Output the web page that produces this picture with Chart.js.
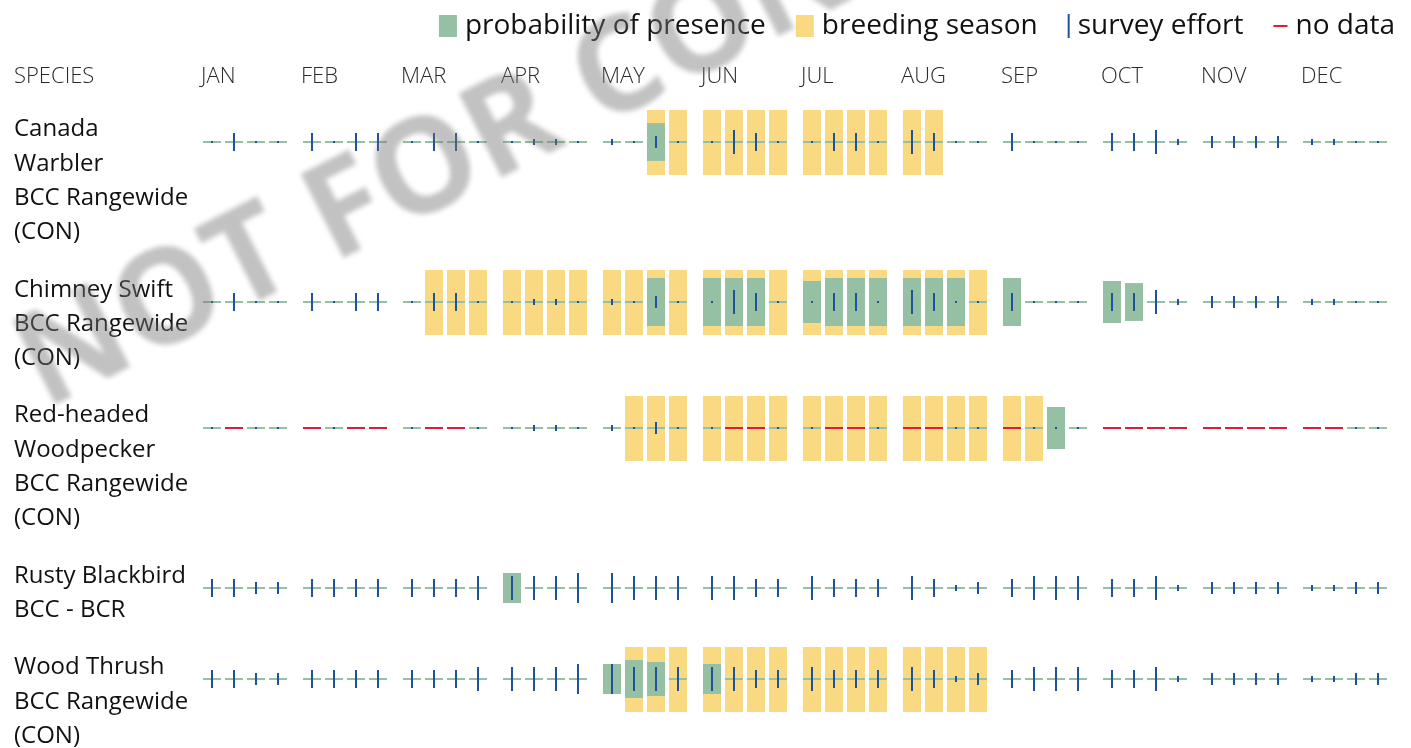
<!DOCTYPE html>
<html lang="en">
<head>
  <meta charset="UTF-8">
  <title>species calendar</title>
  <script src="https://cdn.jsdelivr.net/npm/chart.js@4.4.1/dist/chart.umd.min.js"></script>
  <style>
    body {
      margin: 0;
      background-color: #ffffff;
    }
    #wrap {
      width: 1411px;
      height: 748px;
    }
  </style>
</head>
<body>
  <div id="wrap"><canvas id="calendar" width="1411" height="748"></canvas></div>

  <script>
    const months = ['JAN', 'FEB', 'MAR', 'APR', 'MAY', 'JUN', 'JUL', 'AUG', 'SEP', 'OCT', 'NOV', 'DEC'];
    const legendLabels = ['probability of presence', 'breeding season', 'survey effort', 'no data'];
    const speciesLabels = [
      ['Canada', 'Warbler', 'BCC Rangewide', '(CON)'],
      ['Chimney Swift', 'BCC Rangewide', '(CON)'],
      ['Red-headed', 'Woodpecker', 'BCC Rangewide', '(CON)'],
      ['Rusty Blackbird', 'BCC - BCR'],
      ['Wood Thrush', 'BCC Rangewide', '(CON)']
    ];

    // 48 weeks per row (4 per month). breeding: 1 = breeding season
    const breedingCanada   = [0,0,0,0, 0,0,0,0, 0,0,0,0, 0,0,0,0, 0,0,1,1, 1,1,1,1, 1,1,1,1, 1,1,0,0, 0,0,0,0, 0,0,0,0, 0,0,0,0, 0,0,0,0];
    const breedingChimney  = [0,0,0,0, 0,0,0,0, 0,1,1,1, 1,1,1,1, 1,1,1,1, 1,1,1,1, 1,1,1,1, 1,1,1,1, 0,0,0,0, 0,0,0,0, 0,0,0,0, 0,0,0,0];
    const breedingRedHead  = [0,0,0,0, 0,0,0,0, 0,0,0,0, 0,0,0,0, 0,1,1,1, 1,1,1,1, 1,1,1,1, 1,1,1,1, 1,1,0,0, 0,0,0,0, 0,0,0,0, 0,0,0,0];
    const breedingRusty    = [0,0,0,0, 0,0,0,0, 0,0,0,0, 0,0,0,0, 0,0,0,0, 0,0,0,0, 0,0,0,0, 0,0,0,0, 0,0,0,0, 0,0,0,0, 0,0,0,0, 0,0,0,0];
    const breedingThrush   = [0,0,0,0, 0,0,0,0, 0,0,0,0, 0,0,0,0, 0,1,1,1, 1,1,1,1, 1,1,1,1, 1,1,1,1, 0,0,0,0, 0,0,0,0, 0,0,0,0, 0,0,0,0];

    // probability of presence, 0-10
    const probCanada  = [0,0,0,0, 0,0,0,0, 0,0,0,0, 0,0,0,0, 0,0,7.9,0, 0,0,0,0, 0,0,0,0, 0,0,0,0, 0,0,0,0, 0,0,0,0, 0,0,0,0, 0,0,0,0];
    const probChimney = [0,0,0,0, 0,0,0,0, 0,0,0,0, 0,0,0,0, 0,0,10,0, 10,10,10,0, 8.75,10,10,10, 10,10,10,0, 10,0,0,0, 8.75,7.9,0,0, 0,0,0,0, 0,0,0,0];
    const probRedHead = [0,0,0,0, 0,0,0,0, 0,0,0,0, 0,0,0,0, 0,0,0,0, 0,0,0,0, 0,0,0,0, 0,0,0,0, 0,0,8.75,0, 0,0,0,0, 0,0,0,0, 0,0,0,0];
    const probRusty   = [0,0,0,0, 0,0,0,0, 0,0,0,0, 6.25,0,0,0, 0,0,0,0, 0,0,0,0, 0,0,0,0, 0,0,0,0, 0,0,0,0, 0,0,0,0, 0,0,0,0, 0,0,0,0];
    const probThrush  = [0,0,0,0, 0,0,0,0, 0,0,0,0, 0,0,0,0, 6.25,7.9,7.1,0, 6.25,0,0,0, 0,0,0,0, 0,0,0,0, 0,0,0,0, 0,0,0,0, 0,0,0,0, 0,0,0,0];

    // survey effort level 0-5 (0 = surveyed, barely)
    const effortEast  = [0,3,0,0, 3,0,3,3, 0,3,3,0, 0,1,1,0, 1,0,2,0, 0,4,3,0, 0,3,3,0, 4,3,0,0, 3,0,0,0, 3,3,4,1, 2,2,2,2, 1,1,0,0];
    const effortNorth = [3,3,2,2, 3,3,3,3, 3,3,3,4, 4,4,4,5, 5,4,4,4, 4,4,3,3, 4,3,3,3, 4,3,1,2, 3,4,4,4, 3,3,4,1, 2,2,2,2, 1,1,2,2];

    // 1 = no data for that week
    const noDataNone    = new Array(48).fill(0);
    const noDataRedHead = [0,1,0,0, 1,0,1,1, 0,1,1,0, 0,0,0,0, 0,0,0,0, 0,1,1,0, 0,1,1,0, 1,1,0,0, 1,0,0,0, 1,1,1,1, 1,1,1,1, 1,1,0,0];

    const breeding = [breedingCanada, breedingChimney, breedingRedHead, breedingRusty, breedingThrush];
    const prob = [probCanada, probChimney, probRedHead, probRusty, probThrush];
    const effort = [effortEast, effortEast, effortEast, effortNorth, effortNorth];
    const noData = [noDataNone, noDataNone, noDataRedHead, noDataNone, noDataNone];

    const COLORS = {
      prob: '#95c0a3',
      breed: '#f9d981',
      effort: '#1f5298',
      noData: '#e31b3a',
      text: '#111111'
    };

    // layout
    const LINE_H = 34.3;
    const ROW_GAP = 23;
    const FIRST_TOP = 112;
    const weekX = (i) => Math.floor(i / 4) + ((i % 4) * 22 + 9) / 100;

    const rowTops = [];
    let nextTop = FIRST_TOP;
    speciesLabels.forEach((lines) => {
      rowTops.push(nextTop);
      nextTop += lines.length * LINE_H + ROW_GAP;
    });
    const rowCenters = rowTops.map((t) => Math.round(t + 29.5));

    const breedBars = [], probBars = [], lineBars = [], redBars = [], effortBars = [];
    speciesLabels.forEach((_, s) => {
      const c = rowCenters[s];
      for (let i = 0; i < 48; i++) {
        const x = weekX(i);
        if (breeding[s][i]) breedBars.push({ x, y: [c - 32, c + 33] });
        if (prob[s][i] > 0) probBars.push({ x, y: [c - prob[s][i] * 2.4, c + prob[s][i] * 2.4] });
        if (noData[s][i]) {
          redBars.push({ x, y: [c - 1, c + 1] });
        } else {
          lineBars.push({ x, y: [c - 1, c + 1] });
          const h = Math.max(2, effort[s][i] * 6);
          effortBars.push({ x, y: [c - h / 2, c + h / 2] });
        }
      }
    });

    const barDefaults = { grouped: false, borderWidth: 0, inflateAmount: 0 };

    const textPlugin = {
      id: 'calendarText',
      afterDraw(chart) {
        const ctx = chart.ctx;
        const xs = chart.scales.x;
        const ys = chart.scales.y;
        ctx.save();
        ctx.textBaseline = 'middle';
        ctx.textAlign = 'left';

        // header row
        ctx.fillStyle = '#2a2a2a';
        ctx.font = '300 22px "Open Sans"';
        ctx.fillText('SPECIES', 14, 77);
        months.forEach((m, i) => {
          ctx.fillText(m, xs.getPixelForValue(i) - 2, 77);
        });

        // species labels
        ctx.fillStyle = COLORS.text;
        ctx.font = '24px "Open Sans"';
        speciesLabels.forEach((lines, s) => {
          lines.forEach((line, k) => {
            ctx.fillText(line, 14, ys.getPixelForValue(rowTops[s] + LINE_H * k + 17.5));
          });
        });

        // legend, right aligned
        ctx.font = '28px "Open Sans"';
        const keyW = [18, 18, 2, 14];
        let x = 1395;
        const pos = [];
        for (let k = legendLabels.length - 1; k >= 0; k--) {
          const w = ctx.measureText(legendLabels[k]).width;
          x -= w;
          pos[k] = { text: x };
          x -= 8 + keyW[k];
          pos[k].key = x;
          x -= 30;
        }
        const ly = 26;
        ctx.fillStyle = COLORS.prob;
        ctx.fillRect(pos[0].key, ly - 11, 18, 22);
        ctx.fillStyle = COLORS.breed;
        ctx.fillRect(pos[1].key, ly - 11, 18, 22);
        ctx.fillStyle = COLORS.effort;
        ctx.fillRect(pos[2].key, ly - 12, 2, 24);
        ctx.fillStyle = COLORS.noData;
        ctx.fillRect(pos[3].key, ly - 1, 14, 2);
        ctx.fillStyle = COLORS.text;
        legendLabels.forEach((t, k) => ctx.fillText(t, pos[k].text, ly));

        // watermark
        ctx.translate(45, 410);
        ctx.rotate(-27 * Math.PI / 180);
        ctx.filter = 'blur(2.5px)';
        ctx.fillStyle = 'rgba(120, 120, 120, 0.45)';
        ctx.font = 'bold 132px "Open Sans"';
        ctx.textBaseline = 'alphabetic';
        ctx.fillText('NOT FOR CONSULTATION', 0, 0);
        ctx.restore();
      }
    };

    new Chart(document.getElementById('calendar'), {
      type: 'bar',
      data: {
        datasets: [
          { label: 'survey effort', data: effortBars, backgroundColor: COLORS.effort, barThickness: 2, order: 1, ...barDefaults },
          { label: 'no data', data: redBars, backgroundColor: COLORS.noData, barThickness: 18, order: 2, ...barDefaults },
          { label: 'week', data: lineBars, backgroundColor: COLORS.prob, barThickness: 18, order: 3, ...barDefaults },
          { label: 'probability of presence', data: probBars, backgroundColor: COLORS.prob, barThickness: 18, order: 4, ...barDefaults },
          { label: 'breeding season', data: breedBars, backgroundColor: COLORS.breed, barThickness: 18, order: 5, ...barDefaults }
        ]
      },
      options: {
        responsive: false,
        animation: false,
        layout: { padding: { left: 203, right: 24, top: 0, bottom: 0 } },
        scales: {
          x: { type: 'linear', min: 0, max: 11.84, offset: false, display: false },
          y: { type: 'linear', min: 0, max: 748, reverse: true, display: false }
        },
        plugins: {
          legend: { display: false },
          tooltip: { enabled: false }
        }
      },
      plugins: [textPlugin]
    });
  </script>
</body>
</html>
